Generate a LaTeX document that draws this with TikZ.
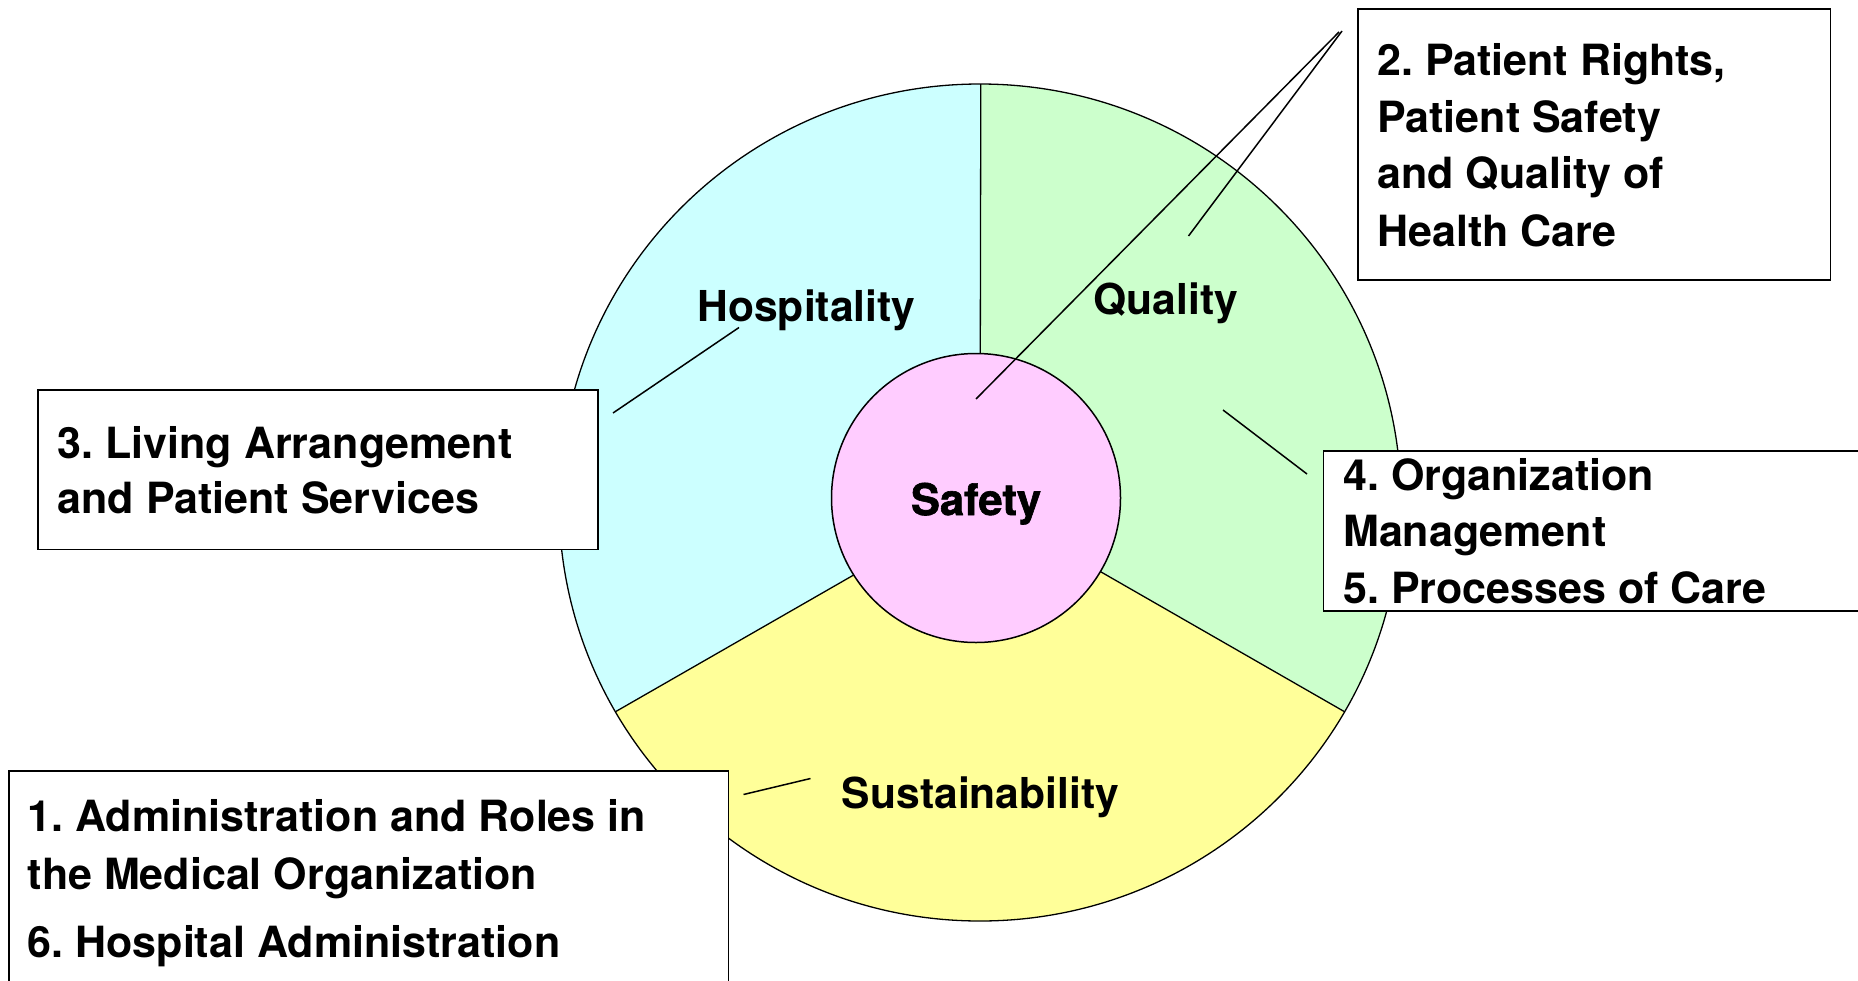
\documentclass[tikz,border=0pt]{standalone}
\usepackage{fontspec}
\setmainfont{TeX Gyre Heros}
\newfontfamily\safefont{TeX Gyre Heros}[BoldFeatures={FakeBold=1.4}]
\frenchspacing
\usetikzlibrary{calc}
\definecolor{hospcol}{HTML}{CCFFFF}
\definecolor{qualcol}{HTML}{CCFFCC}
\definecolor{sustcol}{HTML}{FFFF99}
\definecolor{safecol}{HTML}{FFCCFF}
\tikzset{
  boxframe/.style={draw=black, line width=1.8pt, fill=white, inner sep=0pt, anchor=north west},
  boxline/.style={anchor=base west, inner sep=0pt, font=\fontsize{43}{57}\selectfont\bfseries},
  seclabel/.style={anchor=base, inner sep=0pt, font=\fontsize{42.6}{50}\selectfont\bfseries},
  safelabel/.style={anchor=base, inner sep=0pt, font=\safefont\fontsize{43.5}{50}\selectfont\bfseries},
  divider/.style={draw=black, line width=1.3pt},
  leader/.style={draw=black, line width=1.5pt},
}
\begin{document}
\begin{tikzpicture}[x=1pt,y=1pt]
\useasboundingbox (0,0) rectangle (1858,-980);
\fill[white] (0,0) rectangle (1858,-980);
% outer disc sectors
\coordinate (O) at (980,-502.5);
\fill[hospcol] (O) -- ++(90:418.5) arc[start angle=90, end angle=210, x radius=421, y radius=418.5] -- cycle;
\fill[sustcol] (O) -- ++({421*cos(210)},{418.5*sin(210)}) arc[start angle=210, end angle=330, x radius=421, y radius=418.5] -- cycle;
\fill[qualcol] (O) -- ++({421*cos(330)},{418.5*sin(330)}) arc[start angle=330, end angle=450, x radius=421, y radius=418.5] -- cycle;
\coordinate (dtop) at ($(O)+(0.8,418.5)$);
\coordinate (dleft) at ($(O)+({421*cos(210)},{418.5*sin(210)})$);
\coordinate (dright) at ($(O)+({421*cos(330)},{418.5*sin(330)})$);
\draw[divider] (O) -- (dtop);
\draw[divider] (O) -- (dleft);
\draw[divider] (O) -- (dright);
\draw[divider] (O) ellipse[x radius=421, y radius=418.5];
% inner circle
\node[circle, draw=black, line width=1.5pt, fill=safecol, minimum size=289pt, inner sep=0pt] (safe) at (976,-498) {};
\node[safelabel] (safetxt) at (976,-515) {Safety};
% sector labels
\node[seclabel] (hosp) at (806.5,-321.7) {Hospitality};
\node[seclabel] (qual) at (1166,-314.5) {Quality};
\node[seclabel] (sust) at (980.5,-808) {Sustainability};
% leader lines
\coordinate (l2aS) at (1339,-32);
\coordinate (l2aE) at (976,-399);
\coordinate (l2bS) at (1342,-31);
\coordinate (l2bE) at (1188.5,-236);
\coordinate (l3S) at (739,-327.5);
\coordinate (l3E) at (613,-413);
\coordinate (l4S) at (1223,-410);
\coordinate (l4E) at (1307,-474);
\coordinate (l1S) at (810.5,-778.5);
\coordinate (l1E) at (743.5,-794.5);
\draw[leader] (l2aS) -- (l2aE);
\draw[leader] (l2bS) -- (l2bE);
\draw[leader] (l3S) -- (l3E);
\draw[leader] (l4S) -- (l4E);
\draw[leader] (l1S) -- (l1E);
% boxes
\node[boxframe, minimum width=472.5pt, minimum height=271pt] (box2) at (1357,-8) {};
\node[boxline] (b2a) at (1377,-75) {2. Patient Rights,};
\node[boxline] (b2b) at (1377,-132) {Patient Safety};
\node[boxline] (b2c) at (1377,-188.5) {and Quality of};
\node[boxline] (b2d) at (1377,-246) {Health Care};
\node[boxframe, minimum width=560.3pt, minimum height=159.5pt] (box3) at (36.7,-389) {};
\node[boxline] (b3a) at (57.5,-458.3) {3. Living Arrangement};
\node[boxline] (b3b) at (57.5,-513.3) {and Patient Services};
\node[boxframe, minimum width=560pt, minimum height=160pt] (box4) at (1322.5,-450) {};
\node[boxline] (b4a) at (1343,-490) {4. Organization};
\node[boxline] (b4b) at (1343,-546.7) {Management};
\node[boxline] (b4c) at (1343,-603.3) {5. Processes of Care};
\node[boxframe, minimum width=719.5pt, minimum height=240pt] (box1) at (8,-770) {};
\node[boxline] (b1a) at (27.5,-831.7) {1. Administration and Roles in};
\node[boxline] (b1b) at (27.5,-889.3) {the Medical Organization};
\node[boxline] (b1c) at (27.5,-957.3) {6. Hospital Administration};
\end{tikzpicture}
\end{document}
